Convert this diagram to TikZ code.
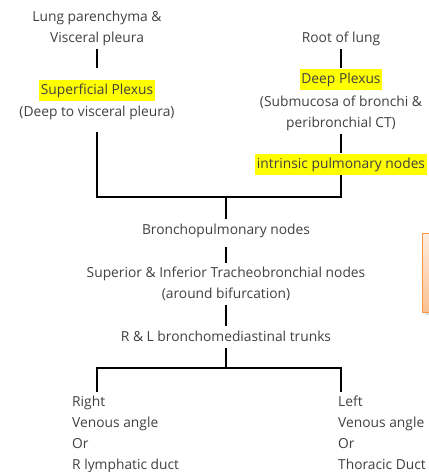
\documentclass[tikz,border=0pt]{standalone}
\usepackage{fontspec}
\setmainfont{Open Sans}
\usetikzlibrary{shadows}
\definecolor{txt}{RGB}{64,64,64}
\definecolor{hl}{RGB}{255,255,0}
\definecolor{obord}{RGB}{247,150,70}
\definecolor{otop}{RGB}{255,238,224}
\definecolor{obot}{RGB}{250,192,144}
\newcommand{\stl}[1]{\strut#1}
\begin{document}
\begin{tikzpicture}[x=1pt,y=-1pt,
  lbl/.style={font=\fontsize{13.8}{21}\selectfont, text=txt, align=center, inner sep=0pt},
  lblleft/.style={lbl, align=left, anchor=north west},
  hlbox/.style={lbl, fill=hl, inner xsep=1.5pt},
  conn/.style={line width=2.3pt, line join=miter, line cap=butt},
  obox/.style={draw=obord, line width=1.2pt, top color=otop, bottom color=obot,
    drop shadow={opacity=0.25}, minimum width=60pt, minimum height=79pt, anchor=north west, inner sep=0pt}]
\useasboundingbox (0,0) rectangle (429,472);
% left branch
\node[lbl] (lung) at (97,27.5) {\stl{Lung parenchyma \&}\\\stl{Visceral pleura}};
\node[hlbox] (sup) at (97,90) {\stl{Superficial Plexus}};
\node[lbl] (supsub) at (97,112) {\stl{(Deep to visceral pleura)}};
% right branch
\node[lbl] (root) at (341,38) {\stl{Root of lung}};
\node[hlbox] (deep) at (341,79) {\stl{Deep Plexus}};
\node[lbl] (deepsub) at (341,112.5) {\stl{(Submucosa of bronchi \&}\\\stl{peribronchial CT)}};
\node[hlbox] (ipn) at (341,164) {\stl{intrinsic pulmonary nodes}};
% centre
\node[lbl] (bp) at (226,230) {\stl{Bronchopulmonary nodes}};
\node[lbl] (tb) at (226,284) {\stl{Superior \& Inferior Tracheobronchial nodes}\\\stl{(around bifurcation)}};
\node[lbl] (tr) at (226,337) {\stl{R \& L bronchomediastinal trunks}};
% bottom
\node[lblleft] (right) at (72,391.5) {\stl{Right}\\\stl{Venous angle}\\\stl{Or}\\\stl{R lymphatic duct}};
\node[lblleft] (left) at (338,391.5) {\stl{Left}\\\stl{Venous angle}\\\stl{Or}\\\stl{Thoracic Duct}};
% orange box
\node[obox] (note) at (422,233) {};
% junctions
\coordinate (jL) at (97,197);
\coordinate (jR) at (341,197);
\coordinate (jC) at (226,197);
\coordinate (kC) at (226,368);
\coordinate (kL) at (97,368);
\coordinate (kR) at (341,368);
% connectors
\draw[conn, shorten >=11pt] (lung.south) -- (sup.north);
\draw[conn] (root.south) -- (deep.north);
\draw[conn] (deepsub.south) -- (ipn.north);
\draw[conn, shorten <=9.5pt] (supsub.south) -- (jL) -- (jR) -- (ipn.south);
\draw[conn] (jC) -- (bp.north);
\draw[conn, shorten <=6.5pt] (bp.south) -- (tb.north);
\draw[conn] (tb.south) -- (tr.north);
\draw[conn] (tr.south) -- (kC);
\draw[conn] (kL |- right.north) -- (kL) -- (kR) -- (kR |- left.north);
\end{tikzpicture}
\end{document}
